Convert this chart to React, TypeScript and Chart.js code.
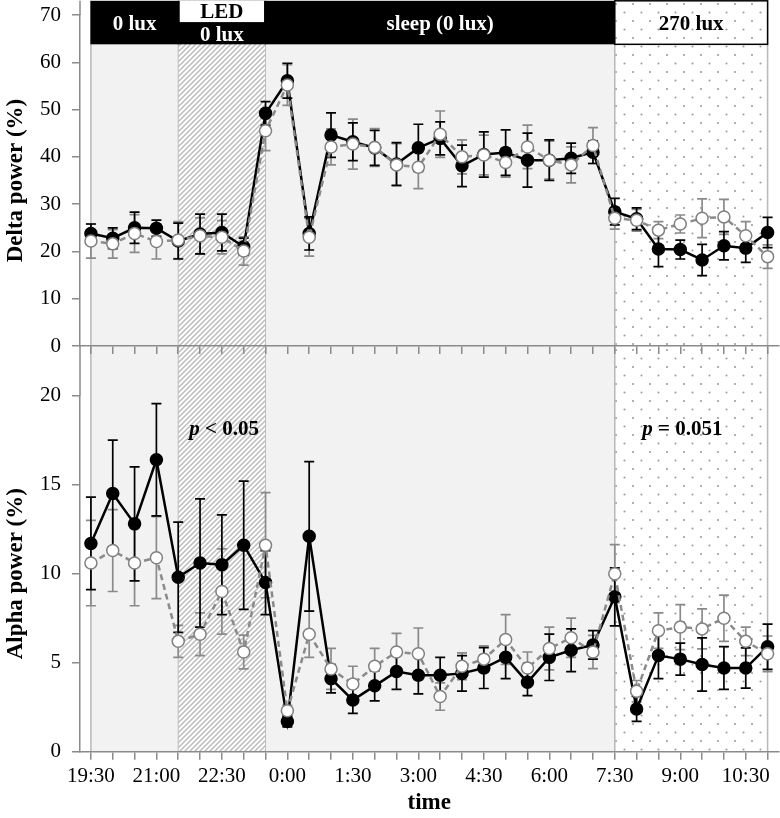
import React, { useEffect, useRef } from 'react';
import { Chart, registerables } from 'chart.js';

Chart.register(...registerables);

const FONT = "'Liberation Serif', 'Times New Roman', Times, serif";
const AXIS = '#8a8a8a';

// ---------- data ----------
const TIMES = ['19:30', '20:00', '20:30', '21:00', '21:30', '22:00', '22:30', '23:00', '23:30', '0:00', '0:30', '1:00', '1:30', '2:00', '2:30', '3:00', '3:30', '4:00', '4:30', '5:00', '5:30', '6:00', '6:30', '7:00', '7:30', '8:00', '8:30', '9:00', '9:30', '10:00', '10:30', '11:00'];

const DELTA_FILLED = [23.8, 22.8, 25.0, 24.9, 22.2, 23.7, 24.0, 21.0, 49.2, 56.1, 23.8, 44.6, 43.2, 41.9, 38.5, 41.9, 43.9, 38.1, 40.5, 40.9, 39.3, 39.3, 39.7, 41.0, 28.4, 26.9, 20.5, 20.4, 18.2, 21.2, 20.7, 24.0];
const DELTA_FILLED_SD = [2.0, 2.2, 3.3, 1.7, 3.8, 4.2, 3.9, 1.8, 2.5, 3.7, 3.5, 4.7, 4.0, 3.7, 4.5, 5.0, 3.5, 4.4, 4.8, 4.8, 5.7, 4.3, 3.2, 2.4, 2.8, 2.3, 3.7, 2.0, 3.3, 3.0, 3.0, 3.2];
const DELTA_OPEN = [22.2, 21.6, 23.8, 22.1, 22.4, 23.3, 23.0, 20.1, 45.5, 55.2, 23.0, 42.1, 42.7, 42.0, 38.3, 37.8, 44.8, 40.0, 40.4, 38.8, 42.1, 39.3, 38.3, 42.4, 27.0, 26.6, 24.5, 25.8, 27.0, 27.3, 23.3, 18.9];
const DELTA_OPEN_SD = [3.6, 3.0, 4.0, 3.7, 3.9, 3.8, 3.5, 3.0, 4.2, 4.3, 4.0, 3.8, 5.3, 4.0, 4.5, 4.5, 4.9, 3.6, 4.2, 3.1, 4.6, 4.0, 3.8, 3.8, 2.3, 2.3, 1.8, 1.9, 4.1, 3.7, 3.0, 2.5];

const ALPHA_FILLED = [11.7, 14.5, 12.8, 16.4, 9.8, 10.6, 10.5, 11.6, 9.5, 1.7, 12.1, 4.1, 2.9, 3.7, 4.5, 4.3, 4.3, 4.4, 4.7, 5.3, 3.9, 5.3, 5.7, 6.0, 8.7, 2.4, 5.4, 5.2, 4.9, 4.7, 4.7, 5.9];
const ALPHA_FILLED_SD = [2.6, 3.0, 3.2, 3.15, 3.1, 3.6, 2.8, 3.6, 1.8, 0.3, 4.2, 0.8, 0.75, 0.85, 1.0, 1.05, 1.0, 1.0, 1.15, 1.2, 0.75, 1.3, 1.2, 0.8, 1.63, 0.7, 1.3, 0.9, 1.5, 1.2, 1.13, 1.27];
const ALPHA_OPEN = [10.6, 11.3, 10.6, 10.9, 6.2, 6.6, 9.0, 5.6, 11.6, 2.3, 6.6, 4.65, 3.8, 4.8, 5.6, 5.5, 3.1, 4.8, 5.2, 6.3, 4.7, 5.8, 6.4, 5.6, 10.0, 3.4, 6.8, 7.0, 6.9, 7.5, 6.2, 5.5];
const ALPHA_OPEN_SD = [2.4, 2.3, 2.4, 2.3, 0.9, 1.2, 2.4, 0.95, 2.95, 0.3, 1.3, 1.15, 1.0, 1.0, 1.05, 1.45, 0.77, 0.75, 0.75, 1.4, 0.9, 1.2, 1.1, 0.93, 1.63, 0.6, 1.0, 1.26, 1.12, 1.3, 0.8, 1.0];

const DELTA_TICKS = [0, 10, 20, 30, 40, 50, 60, 70];
const ALPHA_TICKS = [0, 5, 10, 15, 20];

// periods (indices into TIMES)
const SHADE_FROM = 0;
const SHADE_TO = 24;
const LED_FROM = 4;
const LED_TO = 8;
const LIGHT_FROM = 24;
const LIGHT_TO = 31;

const PERIODS = [
  { label: '0 lux', sub: '', from: 0, to: 4, kind: 'dark' },
  { label: '0 lux', sub: 'LED', from: 4, to: 8, kind: 'led' },
  { label: 'sleep (0 lux)', sub: '', from: 8, to: 24, kind: 'dark' },
  { label: '270 lux', sub: '', from: 24, to: 31, kind: 'light' },
];

// header band (in delta-axis units)
const BAND_TOP = 73;
const BAND_BOTTOM = 63.8;
const BAND_LABEL_Y = 67.9;
const LED_BOX_BOTTOM = 68.5;
const LED_SUB_Y = 70.5;
const LED_LABEL_Y = 65.7;

const DELTA_PANEL_TOP = 73;
const ALPHA_PANEL_TOP = 22.8;

const ALPHA_NOTES = [
  { p: 'p', rest: ' < 0.05', x: 6.1, y: 18.1 },
  { p: 'p', rest: ' = 0.051', x: 27.1, y: 18.1 },
];

// ---------- patterns ----------
function makePatterns(ctx: CanvasRenderingContext2D) {
  const h = document.createElement('canvas');
  h.width = 5;
  h.height = 5;
  const hc = h.getContext('2d')!;
  hc.fillStyle = '#ffffff';
  hc.fillRect(0, 0, 5, 5);
  hc.strokeStyle = '#bcbcbc';
  hc.lineWidth = 1.5;
  hc.beginPath();
  for (const o of [-5, 0, 5]) {
    hc.moveTo(o - 1, 6);
    hc.lineTo(o + 6, -1);
  }
  hc.stroke();
  const d = document.createElement('canvas');
  d.width = 17;
  d.height = 17;
  const dc = d.getContext('2d')!;
  dc.fillStyle = '#ffffff';
  dc.fillRect(0, 0, 17, 17);
  dc.fillStyle = '#9c9c9c';
  dc.beginPath();
  dc.arc(4, 4, 1.05, 0, Math.PI * 2);
  dc.arc(12.5, 12.5, 1.05, 0, Math.PI * 2);
  dc.fill();
  return {
    hatch: ctx.createPattern(h, 'repeat')!,
    dots: ctx.createPattern(d, 'repeat')!,
  };
}

function makeBgPlugin(panelTop: number, withBand: boolean, notes: typeof ALPHA_NOTES) {
  return {
    id: 'bg',
    beforeDraw(chart: any) {
      const { ctx, scales } = chart;
      const x = scales.x;
      const y = scales.y;
      const px = (i: number) => x.getPixelForValue(i);
      const pats = makePatterns(ctx);
      const yTop = y.getPixelForValue(panelTop);
      const yBot = y.getPixelForValue(0);
      ctx.save();
      ctx.fillStyle = '#f2f2f2';
      ctx.fillRect(px(SHADE_FROM), yTop, px(SHADE_TO) - px(SHADE_FROM), yBot - yTop);
      ctx.fillStyle = pats.hatch;
      ctx.fillRect(px(LED_FROM), yTop, px(LED_TO) - px(LED_FROM), yBot - yTop);
      ctx.fillStyle = pats.dots;
      ctx.fillRect(px(LIGHT_FROM), yTop, px(LIGHT_TO) - px(LIGHT_FROM), yBot - yTop);

      ctx.strokeStyle = '#bdbdbd';
      ctx.lineWidth = 1;
      for (const i of [LED_FROM, LED_TO]) {
        ctx.beginPath();
        ctx.moveTo(px(i), yTop);
        ctx.lineTo(px(i), yBot);
        ctx.stroke();
      }
      ctx.strokeStyle = '#b8b8b8';
      ctx.lineWidth = 1.5;
      for (const i of [SHADE_FROM, LIGHT_FROM, LIGHT_TO]) {
        ctx.beginPath();
        ctx.moveTo(px(i), yTop);
        ctx.lineTo(px(i), yBot);
        ctx.stroke();
      }

      // y-axis extension above top tick
      const top = chart.chartArea.top;
      if (yTop < top) {
        ctx.strokeStyle = AXIS;
        ctx.lineWidth = 1.5;
        ctx.beginPath();
        ctx.moveTo(chart.chartArea.left, yTop);
        ctx.lineTo(chart.chartArea.left, top);
        ctx.stroke();
      }

      if (withBand) {
        const bt = y.getPixelForValue(BAND_TOP);
        const bb = y.getPixelForValue(BAND_BOTTOM);
        ctx.textAlign = 'center';
        ctx.textBaseline = 'middle';
        ctx.font = `bold 21px ${FONT}`;
        for (const p of PERIODS) {
          const x0 = px(p.from);
          const x1 = px(p.to);
          if (p.kind === 'light') {
            ctx.fillStyle = pats.dots;
            ctx.fillRect(x0, bt, x1 - x0, bb - bt);
            ctx.strokeStyle = '#000';
            ctx.lineWidth = 1.5;
            ctx.strokeRect(x0, bt, x1 - x0, bb - bt);
            ctx.fillStyle = '#000';
            ctx.fillText(p.label, (x0 + x1) / 2, y.getPixelForValue(BAND_LABEL_Y));
          } else {
            ctx.fillStyle = '#000';
            ctx.fillRect(x0 - 0.5, bt, x1 - x0 + 1, bb - bt);
            if (p.sub) {
              const lb = y.getPixelForValue(LED_BOX_BOTTOM);
              ctx.fillStyle = '#fff';
              ctx.fillRect(x0 + 1.5, bt, x1 - x0 - 3, lb - bt);
              ctx.fillStyle = '#000';
              ctx.fillText(p.sub, (x0 + x1) / 2, y.getPixelForValue(LED_SUB_Y));
              ctx.fillStyle = '#fff';
              ctx.fillText(p.label, (x0 + x1) / 2, y.getPixelForValue(LED_LABEL_Y));
            } else {
              ctx.fillStyle = '#fff';
              ctx.fillText(p.label, (x0 + x1) / 2, y.getPixelForValue(BAND_LABEL_Y));
            }
          }
        }
      }

      for (const n of notes) {
        const cx = px(n.x);
        const cy = y.getPixelForValue(n.y);
        ctx.textBaseline = 'middle';
        ctx.textAlign = 'left';
        ctx.fillStyle = '#000';
        ctx.font = `italic bold 21px ${FONT}`;
        const w1 = ctx.measureText(n.p).width;
        ctx.font = `bold 21px ${FONT}`;
        const w2 = ctx.measureText(n.rest).width;
        const sx = cx - (w1 + w2) / 2;
        ctx.font = `italic bold 21px ${FONT}`;
        ctx.fillText(n.p, sx, cy);
        ctx.font = `bold 21px ${FONT}`;
        ctx.fillText(n.rest, sx + w1, cy);
      }
      ctx.restore();
    },
  };
}

const errPlugin = {
  id: 'errbars',
  beforeDatasetsDraw(chart: any) {
    const { ctx } = chart;
    const y = chart.scales.y;
    chart.data.datasets.forEach((ds: any, di: number) => {
      const meta = chart.getDatasetMeta(di);
      ctx.save();
      ctx.strokeStyle = ds.errColor;
      ctx.lineWidth = 1.7;
      meta.data.forEach((pt: any, i: number) => {
        const v = ds.data[i];
        const s = ds.sd[i];
        const hi = y.getPixelForValue(v + s);
        const lo = y.getPixelForValue(v - s);
        ctx.beginPath();
        ctx.moveTo(pt.x, hi);
        ctx.lineTo(pt.x, lo);
        ctx.moveTo(pt.x - 5, hi);
        ctx.lineTo(pt.x + 5, hi);
        ctx.moveTo(pt.x - 5, lo);
        ctx.lineTo(pt.x + 5, lo);
        ctx.stroke();
      });
      ctx.restore();
    });
  },
};

function datasets(open: number[], openSd: number[], filled: number[], filledSd: number[]) {
  return [
    {
      label: 'open',
      data: open,
      sd: openSd,
      errColor: '#8a8a8a',
      borderColor: '#8a8a8a',
      borderWidth: 2.5,
      borderDash: [6, 4],
      pointRadius: 6,
      pointBorderWidth: 1.5,
      pointBackgroundColor: '#ffffff',
      pointBorderColor: '#808080',
      tension: 0,
    },
    {
      label: 'filled',
      data: filled,
      sd: filledSd,
      errColor: '#000000',
      borderColor: '#000000',
      borderWidth: 2.5,
      pointRadius: 6,
      pointBorderWidth: 1.5,
      pointBackgroundColor: '#000000',
      pointBorderColor: '#000000',
      tension: 0,
    },
  ];
}

function xScale(showLabels: boolean, height: number) {
  return {
    type: 'category',
    offset: true,
    grid: { display: true, drawOnChartArea: false, drawTicks: true, tickLength: 8, color: AXIS, lineWidth: 1.5, offset: false },
    border: { display: true, color: AXIS, width: 1.5 },
    ticks: {
      display: showLabels,
      autoSkip: false,
      maxRotation: 0,
      minRotation: 0,
      padding: 4,
      color: '#000',
      font: { size: 21, family: FONT },
      callback: (_v: any, i: number) => (i % 3 === 0 ? TIMES[i] : ''),
    },
    title: {
      display: showLabels,
      text: 'time',
      color: '#000',
      font: { size: 23, weight: 'bold', family: FONT },
      padding: { top: 0, bottom: 1.5 },
    },
    afterFit: (s: any) => {
      s.height = height;
      s.paddingLeft = 0;
      s.paddingRight = 0;
    },
  };
}

function yScale(max: number, ticks: number[], title: string) {
  return {
    min: 0,
    max,
    afterBuildTicks: (s: any) => {
      s.ticks = ticks.map((v) => ({ value: v }));
    },
    grid: { drawOnChartArea: false, drawTicks: true, tickLength: 8, color: AXIS, lineWidth: 1.5 },
    border: { display: true, color: AXIS, width: 1.5 },
    ticks: { padding: 11, color: '#000', font: { size: 21, family: FONT } },
    title: {
      display: true,
      text: title,
      color: '#000',
      font: { size: 23, weight: 'bold', family: FONT },
      padding: { top: 2, bottom: 0 },
    },
    afterFit: (s: any) => {
      s.width = 80;
      s.paddingTop = 0;
      s.paddingBottom = 0;
    },
  };
}

export default function App() {
  const topRef = useRef<HTMLCanvasElement>(null);
  const botRef = useRef<HTMLCanvasElement>(null);

  useEffect(() => {
    Chart.defaults.font.family = FONT;
    Chart.defaults.color = '#000';
    const common = {
      responsive: false,
      animation: false,
      events: [],
      plugins: { legend: { display: false }, tooltip: { enabled: false } },
    };
    const c1 = new Chart(topRef.current!, {
      type: 'line',
      data: { labels: TIMES, datasets: datasets(DELTA_OPEN, DELTA_OPEN_SD, DELTA_FILLED, DELTA_FILLED_SD) as any },
      options: {
        ...common,
        layout: { autoPadding: false, padding: { top: 15, right: 1.5, left: 0, bottom: 0 } },
        scales: { x: xScale(false, 14) as any, y: yScale(70, DELTA_TICKS, 'Delta power (%)') as any },
      } as any,
      plugins: [makeBgPlugin(DELTA_PANEL_TOP, true, []), errPlugin],
    });
    const c2 = new Chart(botRef.current!, {
      type: 'line',
      data: { labels: TIMES, datasets: datasets(ALPHA_OPEN, ALPHA_OPEN_SD, ALPHA_FILLED, ALPHA_FILLED_SD) as any },
      options: {
        ...common,
        layout: { autoPadding: false, padding: { top: 49.7, right: 1.5, left: 0, bottom: 0 } },
        scales: { x: xScale(true, 66.3) as any, y: yScale(20, ALPHA_TICKS, 'Alpha power (%)') as any },
      } as any,
      plugins: [makeBgPlugin(ALPHA_PANEL_TOP, false, ALPHA_NOTES), errPlugin],
    });
    return () => {
      c1.destroy();
      c2.destroy();
    };
  }, []);

  return (
    <div style={{ position: 'absolute', left: 0, top: 0, width: 780, height: 818, background: '#fff' }}>
      <canvas ref={botRef} width={780} height={472} style={{ position: 'absolute', left: 0, top: 346 }} />
      <canvas ref={topRef} width={780} height={360} style={{ position: 'absolute', left: 0, top: 0 }} />
    </div>
  );
}
